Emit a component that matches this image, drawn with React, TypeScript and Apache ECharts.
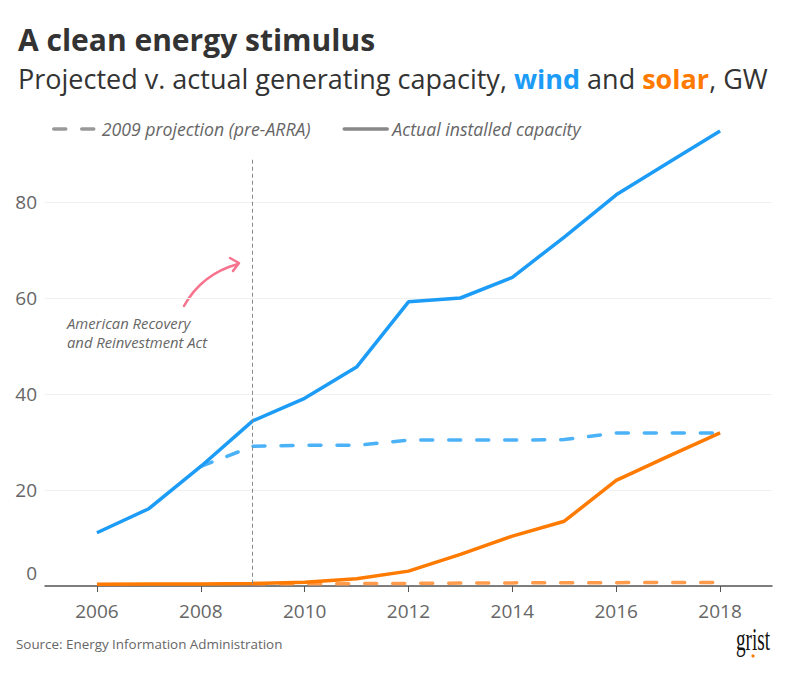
import React, { useEffect, useRef } from "react";
import * as echarts from "echarts";

const years = [2006, 2007, 2008, 2009, 2010, 2011, 2012, 2013, 2014, 2015, 2016, 2017, 2018];
const windActual = [11.1, 16.1, 24.9, 34.4, 39.1, 45.6, 59.2, 60.0, 64.3, 72.7, 81.5, 88.2, 94.8];
const windProjYears = [2008, 2009, 2010, 2011, 2012, 2013, 2014, 2015, 2016, 2017, 2018];
const windProj = [24.9, 29.1, 29.3, 29.3, 30.4, 30.4, 30.4, 30.5, 31.9, 31.9, 31.9];
const solarActual = [0.35, 0.4, 0.4, 0.5, 0.8, 1.5, 3.1, 6.6, 10.4, 13.5, 22.0, 27.0, 31.9];
const solarProjYears = [2009, 2010, 2011, 2012, 2013, 2014, 2015, 2016, 2017, 2018];
const solarProj = [0.5, 0.45, 0.5, 0.55, 0.6, 0.65, 0.68, 0.7, 0.72, 0.75];
const xTickLabels = [2006, 2008, 2010, 2012, 2014, 2016, 2018];
const yTickLabels = [0, 20, 40, 60, 80];
const arraYear = 2009;

const BLUE = "#1c9cf6";
const BLUE_LIGHT = "#4cb2f8";
const ORANGE = "#ff7a00";
const ORANGE_LIGHT = "#ff9b4a";
const NARROW = "'Liberation Sans Narrow', 'Open Sans', sans-serif";
const SANS = "'Open Sans', 'Noto Sans', sans-serif";

export default function App() {
  const ref = useRef<HTMLDivElement>(null);
  useEffect(() => {
    if (!ref.current) return;
    echarts.graphic.registerShape(
      "arrowCurve",
      echarts.graphic.extendPath("M0 0 C 10 -18 25 -34 54 -42", {})
    );
    const chart = echarts.init(ref.current, null, { renderer: "svg" });
    const pair = (xs: number[], ys: number[]) => xs.map((x, i) => [x, ys[i]]);
    const dash = [12, 16];
    chart.setOption({
      animation: false,
      grid: { left: 45, right: 16, top: 106, bottom: 89 },
      legend: {
        left: 47,
        top: 115,
        itemWidth: 43,
        itemHeight: 18,
        itemGap: 32,
        itemStyle: { opacity: 0 },
        lineStyle: { width: 3.5, cap: "round" },
        data: ["2009 projection (pre-ARRA)", "Actual installed capacity"],
        textStyle: { fontFamily: NARROW, fontStyle: "italic", fontSize: 17.7, color: "#666" },
      },
      xAxis: {
        type: "value",
        min: 2005,
        max: 2019,
        interval: 1,
        axisLine: { lineStyle: { color: "#555", width: 1.5 } },
        axisTick: { show: true, length: 6, customValues: xTickLabels, lineStyle: { color: "#555" } },
        axisLabel: {
          customValues: xTickLabels,
          formatter: (v: number) => String(v),
          fontFamily: NARROW,
          fontSize: 19,
          color: "#666",
          margin: 15,
        },
        splitLine: { show: false },
      },
      yAxis: {
        type: "value",
        min: 0,
        max: 100,
        interval: 20,
        axisLine: { show: false },
        axisTick: { show: false },
        axisLabel: {
          formatter: (v: number) => (v === 0 ? "{z|0}" : yTickLabels.includes(v) ? String(v) : ""),
          fontFamily: NARROW,
          fontSize: 19,
          color: "#666",
          margin: 8,
          rich: { z: { fontFamily: NARROW, fontSize: 19, color: "#666", padding: [0, 0, 26, 0] } },
        },
        splitLine: {
          lineStyle: { color: ["#f0f0f0", "#f0f0f0", "#f0f0f0", "#f0f0f0", "#f0f0f0", "transparent"], width: 1 },
        },
      },
      series: [
        {
          name: "2009 projection (pre-ARRA)",
          type: "line",
          data: [],
          symbol: "none",
          itemStyle: { color: "#999" },
          lineStyle: { color: "#999", width: 3.5, type: dash, cap: "round" },
        },
        {
          name: "Actual installed capacity",
          type: "line",
          data: [],
          symbol: "none",
          itemStyle: { color: "#888" },
          lineStyle: { color: "#888", width: 3.5 },
        },
        {
          name: "solarProj",
          type: "line",
          data: pair(solarProjYears, solarProj),
          symbol: "none",
          lineStyle: { color: ORANGE_LIGHT, width: 3.5, type: dash, cap: "round" },
          z: 2,
        },
        {
          name: "solar",
          type: "line",
          data: pair(years, solarActual),
          symbol: "none",
          lineStyle: { color: ORANGE, width: 3.5 },
          z: 3,
        },
        {
          name: "windProj",
          type: "line",
          data: pair(windProjYears, windProj),
          symbol: "none",
          lineStyle: { color: BLUE_LIGHT, width: 3.5, type: dash, cap: "round" },
          z: 2,
        },
        {
          name: "wind",
          type: "line",
          data: pair(years, windActual),
          symbol: "none",
          lineStyle: { color: BLUE, width: 3.5 },
          z: 3,
          markLine: {
            silent: true,
            symbol: "none",
            label: { show: false },
            lineStyle: { color: "#888", width: 1, type: [4, 3] },
            data: [[{ coord: [arraYear, 88.8] }, { coord: [arraYear, 0] }]],
          },
        },
      ],
      graphic: [
        {
          type: "text",
          left: 18,
          top: 24,
          style: { text: "A clean energy stimulus", fontFamily: SANS, fontWeight: "bold", fontSize: 30, fill: "#333" },
        },
        {
          type: "text",
          left: 18,
          top: 65,
          style: {
            text: "Projected v. actual generating capacity, {w|wind} and {s|solar}, GW",
            fontFamily: SANS,
            fontSize: 27,
            fill: "#333",
            rich: {
              w: { fontFamily: SANS, fontSize: 27, fontWeight: "bold", fill: BLUE, color: BLUE },
              s: { fontFamily: SANS, fontSize: 27, fontWeight: "bold", fill: ORANGE, color: ORANGE },
            },
          },
        },
        {
          type: "text",
          left: 67,
          top: 313,
          style: {
            text: "American Recovery\nand Reinvestment Act",
            fontFamily: SANS,
            fontStyle: "italic",
            fontSize: 14.8,
            lineHeight: 19,
            fill: "#666",
          },
        },
        {
          type: "arrowCurve",
          x: 184,
          y: 306,
          style: { fill: "none", stroke: "#f7738e", lineWidth: 2.5, lineCap: "round" },
        },
        {
          type: "polyline",
          shape: { points: [[230, 258], [239, 263], [233, 271]] },
          style: { fill: "none", stroke: "#f7738e", lineWidth: 2.5, lineCap: "round", lineJoin: "round" },
        },
        {
          type: "text",
          left: 16,
          top: 637,
          style: { text: "Source: Energy Information Administration", fontFamily: SANS, fontSize: 13.4, fill: "#666" },
        },
        {
          type: "text",
          x: 736,
          y: 624,
          scaleX: 0.62,
          style: { text: "grist", fontFamily: "'Liberation Serif', serif", fontSize: 31, fill: "#111" },
        },
        {
          type: "circle",
          shape: { cx: 753, cy: 656, r: 1.6 },
          style: { fill: ORANGE },
        },
      ],
    });
    return () => chart.dispose();
  }, []);
  return <div ref={ref} style={{ width: 788, height: 675, margin: -8 }} />;
}
